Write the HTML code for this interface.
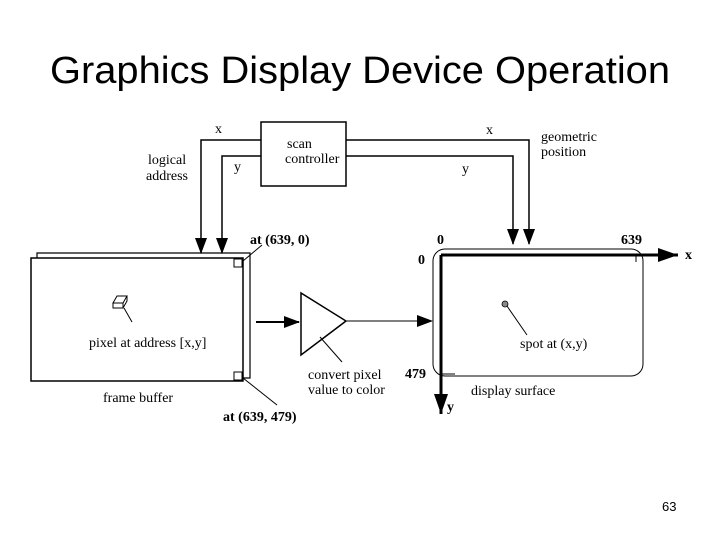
<!DOCTYPE html>
<html><head><meta charset="utf-8"><style>html,body{margin:0;padding:0;background:#fff}svg{display:block}</style></head>
<body>
<svg width="720" height="540" viewBox="0 0 720 540" xmlns="http://www.w3.org/2000/svg">
<defs>
<marker id="a" markerWidth="16" markerHeight="12" refX="15" refY="6" orient="auto" markerUnits="userSpaceOnUse"><path d="M0,0 L16,6 L0,12 z" fill="#000"/></marker>
<marker id="b" markerWidth="20" markerHeight="14" refX="20" refY="7" orient="auto" markerUnits="userSpaceOnUse"><path d="M0,0 L20,7 L0,14 z" fill="#000"/></marker>
</defs>
<text x="50" y="83" font-family="Liberation Sans, Arial, sans-serif" font-size="38" textLength="620" lengthAdjust="spacingAndGlyphs">Graphics Display Device Operation</text>
<g font-family="Liberation Serif, serif" font-size="14" fill="#000">
<text x="215" y="133">x</text>
<text x="234" y="171">y</text>
<text x="148" y="164">logical</text>
<text x="146" y="180">address</text>
<text x="287" y="148">scan</text>
<text x="285" y="163">controller</text>
<text x="486" y="134">x</text>
<text x="462" y="173">y</text>
<text x="541" y="141">geometric</text>
<text x="541" y="156">position</text>
<text x="89" y="347">pixel at address [x,y]</text>
<text x="103" y="402">frame buffer</text>
<text x="308" y="379">convert pixel</text>
<text x="308" y="394">value to color</text>
<text x="520" y="348">spot at (x,y)</text>
<text x="471" y="395">display surface</text>
</g>
<g font-family="Liberation Serif, serif" font-size="14" font-weight="bold">
<text x="250" y="244">at (639, 0)</text>
<text x="223" y="421">at (639, 479)</text>
<text x="437" y="244">0</text>
<text x="418" y="264">0</text>
<text x="621" y="244">639</text>
<text x="405" y="378">479</text>
<text x="685" y="259">x</text>
<text x="447" y="411">y</text>
</g>
<g stroke="#000" fill="none" stroke-width="1.5">
<rect x="261" y="122" width="85" height="64"/>
<path d="M261,140 H201 V253" marker-end="url(#a)"/>
<path d="M261,156 H222 V253" marker-end="url(#a)"/>
<path d="M346,140 H529 V244" marker-end="url(#a)"/>
<path d="M346,156 H513 V244" marker-end="url(#a)"/>
<path d="M37,258 V253 H250 V378 H243" stroke-width="1.2"/>
<rect x="31" y="258" width="212" height="123"/>
<rect x="234" y="259" width="8" height="8" stroke-width="1"/>
<rect x="234" y="372" width="8" height="8" stroke-width="1"/>
<path d="M243,261 L262,245" stroke-width="1"/>
<path d="M243,378 L277,405" stroke-width="1"/>
<path d="M113,303 l4,-7 h10 l-4,7 z M113,303 v5 h10 v-5 M123,308 l4,-7 v-5" stroke-width="1"/>
<path d="M124,308 L132,322" stroke-width="1"/>
<path d="M256,322 H299" marker-end="url(#a)" stroke-width="2"/>
<path d="M301,293 V355 L346,321 Z"/>
<path d="M320,337 L342,362" stroke-width="1"/>
<path d="M346,321 H432" marker-end="url(#a)" stroke-width="1"/>
<rect x="433" y="249" width="210" height="127" rx="12" stroke-width="1"/>
<path d="M441,255 H678" stroke-width="3" marker-end="url(#b)"/>
<path d="M441,255 V414" stroke-width="3" marker-end="url(#b)"/>
<path d="M636,255 V262 M441,374 H455" stroke-width="1"/>
<path d="M507,306 L527,335" stroke-width="1"/>
</g>
<circle cx="505" cy="304" r="3" fill="#888" stroke="#000" stroke-width="0.8"/>
<text x="662" y="511" font-family="Liberation Sans, Arial, sans-serif" font-size="13">63</text>
</svg>
</body></html>
